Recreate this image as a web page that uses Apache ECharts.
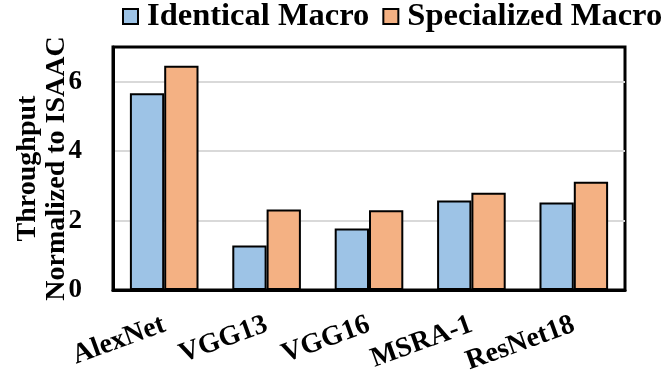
<!DOCTYPE html>
<html>
<head>
<meta charset="utf-8">
<script src="https://cdn.jsdelivr.net/npm/echarts@6/dist/echarts.min.js"></script>
<style>
  html, body { margin: 0; padding: 0; background: #fff; }
  #chart { width: 664px; height: 376px; }
</style>
</head>
<body>
<div id="chart"></div>
<script>
// data
const networks = ['AlexNet', 'VGG13', 'VGG16', 'MSRA-1', 'ResNet18']
const identicalMacro = [5.67, 1.28, 1.77, 2.58, 2.52]
const specializedMacro = [6.46, 2.32, 2.30, 2.80, 3.12]
const seriesNames = ['Identical Macro', 'Specialized Macro']

const FONT = '"Liberation Serif", "Times New Roman", serif'

const chart = echarts.init(document.getElementById('chart'))

const barStyle = (color) => ({
  color: color,
  borderColor: '#000',
  borderWidth: 2,
})

chart.setOption({
  animation: false,
  textStyle: { fontFamily: FONT, color: '#000' },
  legend: {
    top: 0,
    left: 122,
    width: 640,
    padding: 0,
    itemWidth: 15,
    itemHeight: 15,
    itemGap: 13,
    icon: 'rect',
    itemStyle: { borderColor: '#000', borderWidth: 2 },
    textStyle: { fontFamily: FONT, fontSize: 32.5, fontWeight: 'bold', color: '#000', padding: [0, 0, 0, 4] },
    data: seriesNames,
  },
  grid: {
    left: 113,
    right: 39,
    top: 47,
    bottom: 86,
    outerBoundsMode: 'none',
    show: true,
    borderColor: '#000',
    borderWidth: 3,
  },
  xAxis: {
    type: 'category',
    data: networks,
    axisTick: { show: false },
    axisLine: { lineStyle: { color: '#000', width: 3 } },
    axisLabel: {
      interval: 0,
      rotate: 20,
      margin: 34,
      fontFamily: FONT,
      fontSize: 28,
      fontWeight: 'bold',
      color: '#000',
    },
  },
  yAxis: {
    type: 'value',
    min: 0,
    max: 7,
    interval: 2,
    name: 'Throughput\nNormalized to ISAAC',
    nameLocation: 'middle',
    nameGap: 42,
    nameMoveOverlap: false,
    nameTextStyle: {
      fontFamily: FONT,
      fontSize: 28,
      fontWeight: 'bold',
      color: '#000',
      lineHeight: 29,
    },
    axisLine: { show: true, lineStyle: { color: '#000', width: 3 } },
    axisTick: { show: false },
    axisLabel: {
      margin: 31,
      showMaxLabel: false,
      fontFamily: FONT,
      fontSize: 27,
      fontWeight: 'bold',
      color: '#000',
    },
    splitLine: { showMaxLine: false, lineStyle: { color: '#d9d9d9', width: 2 } },
  },
  series: [
    {
      name: seriesNames[0],
      type: 'bar',
      data: identicalMacro,
      barGap: '0%',
      barCategoryGap: '33%',
      itemStyle: barStyle('#9dc3e6'),
    },
    {
      name: seriesNames[1],
      type: 'bar',
      data: specializedMacro,
      barGap: '0%',
      barCategoryGap: '33%',
      itemStyle: barStyle('#f4b183'),
    },
  ],
})
</script>
</body>
</html>
